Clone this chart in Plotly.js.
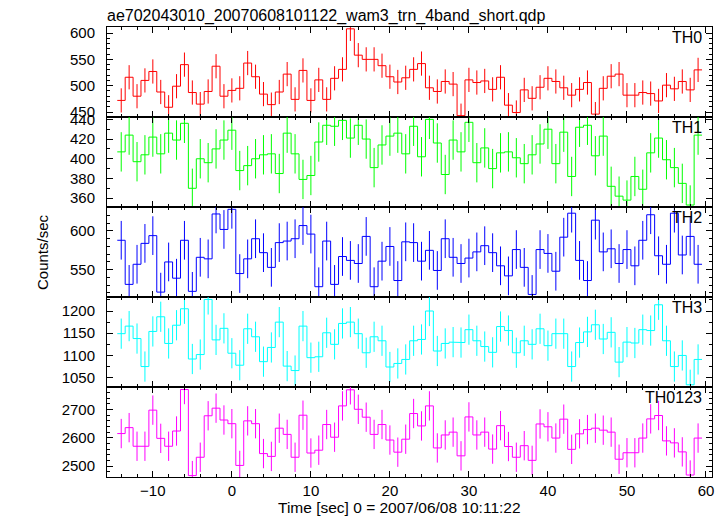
<!DOCTYPE html>
<html><head><meta charset="utf-8">
<script src="https://cdn.plot.ly/plotly-3.0.0.min.js"></script>
<style>html,body{margin:0;padding:0;background:#fff}#chart{width:726px;height:516px}</style>
</head><body><div id="chart"></div>
<script>
// bin centres (s), 1 s bins
const time = [-14,-13,-12,-11,-10,-9,-8,-7,-6,-5,-4,-3,-2,-1,0,1,2,3,4,5,6,7,8,9,10,11,12,13,14,15,16,17,18,19,20,21,22,
  23,24,25,26,27,28,29,30,31,32,33,34,35,36,37,38,39,40,41,42,43,44,45,46,47,48,49,50,51,52,53,54,55,56,57,58,59];
const binWidth = 1;

const th0 = [472,516,480,510,527,488,459,499,540,487,465,489,537,480,491,495,543,517,484,464,488,522,474,529,472,511,474,514,531,608,558,550,550,538,517,507,515,
  531,542,496,489,508,503,443,511,506,509,493,516,463,449,492,476,497,514,508,496,482,493,506,446,495,518,522,482,482,487,485,471,501,494,508,492,530];
const th1 = [407,424,397,404,422,405,426,419,436,370,400,396,410,419,429,388,393,400,404,405,385,426,405,379,383,417,434,433,439,421,434,420,391,414,423,426,405,
  433,402,440,416,384,419,407,437,396,411,390,406,407,401,395,404,415,430,395,427,382,432,434,403,423,372,362,358,382,369,406,421,399,391,375,353,424];
const th2 = [588,531,557,584,594,521,560,539,588,522,566,564,622,602,628,545,564,590,572,553,585,587,590,607,596,528,587,531,567,562,558,593,528,561,580,536,586,
  585,561,575,549,590,566,558,565,573,581,572,555,542,576,553,518,576,571,548,592,623,562,536,614,573,577,558,576,555,588,621,568,557,623,569,593,557];
const th3 = [1149,1166,1138,1075,1154,1187,1127,1168,1205,1092,1102,1226,1135,1161,1105,1078,1160,1142,1086,1118,1175,1076,1066,1166,1095,1097,1151,1125,1172,1175,1149,1106,1142,1133,1074,1082,1091,
  1133,1136,1200,1110,1127,1130,1129,1158,1133,1120,1107,1165,1156,1106,1133,1125,1160,1122,1149,1149,1075,1129,1153,1169,1137,1152,1085,1130,1128,1158,1156,1214,1133,1075,1100,1034,1091];
const th0123 = [2615,2636,2570,2570,2698,2598,2570,2624,2771,2466,2531,2678,2705,2663,2650,2502,2660,2650,2544,2534,2634,2612,2531,2680,2546,2556,2647,2602,2713,2770,2701,2673,2612,2647,2592,2549,2595,
  2686,2642,2713,2564,2610,2620,2536,2674,2610,2620,2560,2643,2569,2531,2572,2520,2649,2639,2599,2666,2559,2614,2629,2634,2627,2620,2524,2547,2547,2599,2667,2679,2589,2582,2550,2468,2599];

// typical 1-sigma error per band (counts/sec)
const errTH0 = 23, errTH1 = 20, errTH2 = 25, errTH3 = 34, errTH0123 = 52;

const bandNames = ['TH0','TH1','TH2','TH3','TH0123'];
const bandValues = [th0, th1, th2, th3, th0123];
const bandErrors = [errTH0, errTH1, errTH2, errTH3, errTH0123];
const bandColors = ['#ff0000','#00ff00','#0000ff','#00ffff','#ff00ff'];
const yRanges = [[440.5,611.5],[351,442.4],[514.7,631],[1029,1231.5],[2461,2780]];
const yDticks = [50,20,50,50,100];
const yMinor = [10,10,10,25,20];
const xRange = [-15.8, 60.76];

const F = 'Liberation Sans, Arial, Helvetica, sans-serif';
const traces = [];
const layout = {
  width:726, height:516,
  margin:{l:107, r:14, t:27, b:39},
  paper_bgcolor:'#fff', plot_bgcolor:'#fff',
  showlegend:false, hovermode:false,
  font:{family:F, size:15, color:'#000'},
  title:{text:'ae702043010_20070608101122_wam3_trn_4band_short.qdp', font:{family:F, size:16, color:'#000'},
         x:107/726, xref:'container', xanchor:'left', y:1-15.5/516, yref:'container', yanchor:'middle'},
  annotations:[]
};

const n = bandNames.length;
for (let i = 0; i < n; i++) {
  const xa = 'x' + (i ? i+1 : ''), ya = 'y' + (i ? i+1 : '');
  const sx = [], sy = [];
  time.forEach((t, k) => { sx.push(t - binWidth/2, t + binWidth/2); sy.push(bandValues[i][k], bandValues[i][k]); });
  traces.push({type:'scatter', mode:'lines', x:sx, y:sy, xaxis:xa, yaxis:ya,
    line:{color:bandColors[i], width:1}, hoverinfo:'skip'});
  traces.push({type:'scatter', mode:'markers', x:time, y:bandValues[i], xaxis:xa, yaxis:ya,
    marker:{size:0, opacity:0, color:bandColors[i]},
    error_y:{type:'constant', value:bandErrors[i], color:bandColors[i], thickness:1, width:0}, hoverinfo:'skip'});

  const top = 1 - i/n, bot = 1 - (i+1)/n;
  const axBase = {showline:true, linecolor:'#000', linewidth:1, mirror:'allticks', ticks:'inside', ticklen:6,
    tickwidth:1, tickcolor:'#000', showgrid:false, zeroline:false, tickfont:{family:F, size:15, color:'#000'}};
  layout['xaxis' + (i ? i+1 : '')] = Object.assign({}, axBase, {
    anchor:ya, range:xRange, tick0:0, dtick:10, showticklabels:(i === n-1),
    minor:{ticks:'inside', ticklen:3, tickcolor:'#000', dtick:2, tick0:0, showgrid:false},
    ticklabelstandoff:0
  }, i ? {matches:'x'} : {});
  layout['yaxis' + (i ? i+1 : '')] = Object.assign({}, axBase, {
    anchor:xa, domain:[bot, top], range:yRanges[i], tick0:0, dtick:yDticks[i],
    minor:{ticks:'inside', ticklen:3, tickcolor:'#000', dtick:yMinor[i], tick0:0, showgrid:false},
    ticklabelstandoff:8
  });
  layout.annotations.push({text:bandNames[i], xref:'paper', yref:'paper', x:(704-107)/605, y:top - 10.5/450,
    xanchor:'right', yanchor:'middle', showarrow:false, font:{family:F, size:16, color:'#000'}});
}
layout.annotations.push({text:'Time [sec] 0 = 2007/06/08 10:11:22', xref:'paper', yref:'paper',
  x:(399-107)/605, y:(477-507)/450, xanchor:'center', yanchor:'middle', showarrow:false,
  font:{family:F, size:15.5, color:'#000'}});
layout.annotations.push({text:'Counts/sec', xref:'paper', yref:'paper', x:(42-107)/605, y:0.5, textangle:-90,
  xanchor:'center', yanchor:'middle', showarrow:false, font:{family:F, size:15, color:'#000'}});

Plotly.newPlot('chart', traces, layout, {staticPlot:true, displayModeBar:false});
</script>
</body></html>
